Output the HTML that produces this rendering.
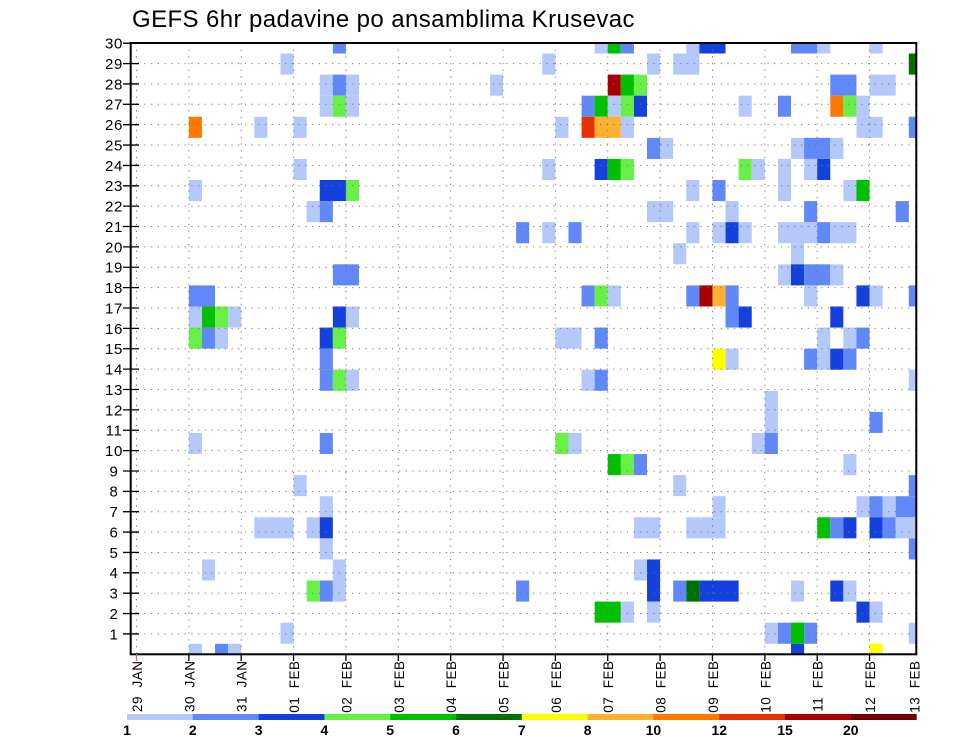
<!DOCTYPE html>
<html><head><meta charset="utf-8"><style>
html,body{margin:0;padding:0;background:#fff;}
svg{display:block;}
.c1{fill:#b4c8fa}.c2{fill:#6088f8}.c3{fill:#1441dc}.c4{fill:#68f048}
.c5{fill:#00c000}.c6{fill:#007000}.c7{fill:#ffff00}.c8{fill:#ffb030}
.c9{fill:#ff7800}.c10{fill:#e83000}.c11{fill:#a80000}.c12{fill:#700000}
text{font-family:"Liberation Sans",sans-serif;fill:#000}
</style></head><body>
<svg width="960" height="742" viewBox="0 0 960 742" xmlns="http://www.w3.org/2000/svg">
<rect width="960" height="742" fill="#fff"/>
<text x="132" y="27" font-size="24" letter-spacing="0.4">GEFS 6hr padavine po ansamblima Krusevac</text>
<defs><clipPath id="pc"><rect x="130.7" y="43" width="785.6" height="611.3"/></clipPath></defs>
<g clip-path="url(#pc)">
<g transform="translate(136.5,654.3) scale(13.09,-21.08)">
<rect class="c2" x="15" y="28.5" width="1" height="1"/>
<rect class="c1" x="35" y="28.5" width="1" height="1"/>
<rect class="c5" x="36" y="28.5" width="1" height="1"/>
<rect class="c2" x="37" y="28.5" width="1" height="1"/>
<rect class="c1" x="42" y="28.5" width="1" height="1"/>
<rect class="c3" x="43" y="28.5" width="2" height="1"/>
<rect class="c2" x="50" y="28.5" width="2" height="1"/>
<rect class="c1" x="52" y="28.5" width="1" height="1"/>
<rect class="c1" x="56" y="28.5" width="1" height="1"/>
<rect class="c1" x="11" y="27.5" width="1" height="1"/>
<rect class="c1" x="31" y="27.5" width="1" height="1"/>
<rect class="c1" x="39" y="27.5" width="1" height="1"/>
<rect class="c1" x="41" y="27.5" width="2" height="1"/>
<rect class="c6" x="59" y="27.5" width="1" height="1"/>
<rect class="c1" x="14" y="26.5" width="1" height="1"/>
<rect class="c2" x="15" y="26.5" width="1" height="1"/>
<rect class="c1" x="16" y="26.5" width="1" height="1"/>
<rect class="c1" x="27" y="26.5" width="1" height="1"/>
<rect class="c11" x="36" y="26.5" width="1" height="1"/>
<rect class="c5" x="37" y="26.5" width="1" height="1"/>
<rect class="c4" x="38" y="26.5" width="1" height="1"/>
<rect class="c2" x="53" y="26.5" width="2" height="1"/>
<rect class="c1" x="56" y="26.5" width="2" height="1"/>
<rect class="c1" x="14" y="25.5" width="1" height="1"/>
<rect class="c4" x="15" y="25.5" width="1" height="1"/>
<rect class="c1" x="16" y="25.5" width="1" height="1"/>
<rect class="c2" x="34" y="25.5" width="1" height="1"/>
<rect class="c5" x="35" y="25.5" width="1" height="1"/>
<rect class="c1" x="36" y="25.5" width="1" height="1"/>
<rect class="c4" x="37" y="25.5" width="1" height="1"/>
<rect class="c3" x="38" y="25.5" width="1" height="1"/>
<rect class="c1" x="46" y="25.5" width="1" height="1"/>
<rect class="c2" x="49" y="25.5" width="1" height="1"/>
<rect class="c9" x="53" y="25.5" width="1" height="1"/>
<rect class="c4" x="54" y="25.5" width="1" height="1"/>
<rect class="c1" x="55" y="25.5" width="1" height="1"/>
<rect class="c9" x="4" y="24.5" width="1" height="1"/>
<rect class="c1" x="9" y="24.5" width="1" height="1"/>
<rect class="c1" x="12" y="24.5" width="1" height="1"/>
<rect class="c1" x="32" y="24.5" width="1" height="1"/>
<rect class="c10" x="34" y="24.5" width="1" height="1"/>
<rect class="c8" x="35" y="24.5" width="2" height="1"/>
<rect class="c1" x="37" y="24.5" width="1" height="1"/>
<rect class="c1" x="55" y="24.5" width="2" height="1"/>
<rect class="c2" x="59" y="24.5" width="1" height="1"/>
<rect class="c2" x="39" y="23.5" width="1" height="1"/>
<rect class="c1" x="40" y="23.5" width="1" height="1"/>
<rect class="c1" x="50" y="23.5" width="1" height="1"/>
<rect class="c2" x="51" y="23.5" width="2" height="1"/>
<rect class="c1" x="53" y="23.5" width="1" height="1"/>
<rect class="c1" x="12" y="22.5" width="1" height="1"/>
<rect class="c1" x="31" y="22.5" width="1" height="1"/>
<rect class="c3" x="35" y="22.5" width="1" height="1"/>
<rect class="c5" x="36" y="22.5" width="1" height="1"/>
<rect class="c4" x="37" y="22.5" width="1" height="1"/>
<rect class="c4" x="46" y="22.5" width="1" height="1"/>
<rect class="c1" x="47" y="22.5" width="1" height="1"/>
<rect class="c1" x="49" y="22.5" width="1" height="1"/>
<rect class="c1" x="51" y="22.5" width="1" height="1"/>
<rect class="c3" x="52" y="22.5" width="1" height="1"/>
<rect class="c1" x="4" y="21.5" width="1" height="1"/>
<rect class="c3" x="14" y="21.5" width="2" height="1"/>
<rect class="c4" x="16" y="21.5" width="1" height="1"/>
<rect class="c1" x="42" y="21.5" width="1" height="1"/>
<rect class="c2" x="44" y="21.5" width="1" height="1"/>
<rect class="c1" x="49" y="21.5" width="1" height="1"/>
<rect class="c1" x="54" y="21.5" width="1" height="1"/>
<rect class="c5" x="55" y="21.5" width="1" height="1"/>
<rect class="c1" x="13" y="20.5" width="1" height="1"/>
<rect class="c2" x="14" y="20.5" width="1" height="1"/>
<rect class="c1" x="39" y="20.5" width="2" height="1"/>
<rect class="c1" x="45" y="20.5" width="1" height="1"/>
<rect class="c2" x="51" y="20.5" width="1" height="1"/>
<rect class="c2" x="58" y="20.5" width="1" height="1"/>
<rect class="c2" x="29" y="19.5" width="1" height="1"/>
<rect class="c1" x="31" y="19.5" width="1" height="1"/>
<rect class="c2" x="33" y="19.5" width="1" height="1"/>
<rect class="c1" x="42" y="19.5" width="1" height="1"/>
<rect class="c1" x="44" y="19.5" width="1" height="1"/>
<rect class="c3" x="45" y="19.5" width="1" height="1"/>
<rect class="c1" x="46" y="19.5" width="1" height="1"/>
<rect class="c1" x="49" y="19.5" width="3" height="1"/>
<rect class="c2" x="52" y="19.5" width="1" height="1"/>
<rect class="c1" x="53" y="19.5" width="2" height="1"/>
<rect class="c1" x="41" y="18.5" width="1" height="1"/>
<rect class="c1" x="50" y="18.5" width="1" height="1"/>
<rect class="c2" x="15" y="17.5" width="2" height="1"/>
<rect class="c1" x="49" y="17.5" width="1" height="1"/>
<rect class="c3" x="50" y="17.5" width="1" height="1"/>
<rect class="c2" x="51" y="17.5" width="2" height="1"/>
<rect class="c1" x="53" y="17.5" width="1" height="1"/>
<rect class="c2" x="4" y="16.5" width="2" height="1"/>
<rect class="c2" x="34" y="16.5" width="1" height="1"/>
<rect class="c4" x="35" y="16.5" width="1" height="1"/>
<rect class="c1" x="36" y="16.5" width="1" height="1"/>
<rect class="c2" x="42" y="16.5" width="1" height="1"/>
<rect class="c11" x="43" y="16.5" width="1" height="1"/>
<rect class="c8" x="44" y="16.5" width="1" height="1"/>
<rect class="c2" x="45" y="16.5" width="1" height="1"/>
<rect class="c1" x="51" y="16.5" width="1" height="1"/>
<rect class="c3" x="55" y="16.5" width="1" height="1"/>
<rect class="c1" x="56" y="16.5" width="1" height="1"/>
<rect class="c2" x="59" y="16.5" width="1" height="1"/>
<rect class="c1" x="4" y="15.5" width="1" height="1"/>
<rect class="c5" x="5" y="15.5" width="1" height="1"/>
<rect class="c4" x="6" y="15.5" width="1" height="1"/>
<rect class="c1" x="7" y="15.5" width="1" height="1"/>
<rect class="c3" x="15" y="15.5" width="1" height="1"/>
<rect class="c1" x="16" y="15.5" width="1" height="1"/>
<rect class="c2" x="45" y="15.5" width="1" height="1"/>
<rect class="c3" x="46" y="15.5" width="1" height="1"/>
<rect class="c3" x="53" y="15.5" width="1" height="1"/>
<rect class="c4" x="4" y="14.5" width="1" height="1"/>
<rect class="c2" x="5" y="14.5" width="1" height="1"/>
<rect class="c1" x="6" y="14.5" width="1" height="1"/>
<rect class="c3" x="14" y="14.5" width="1" height="1"/>
<rect class="c4" x="15" y="14.5" width="1" height="1"/>
<rect class="c1" x="32" y="14.5" width="2" height="1"/>
<rect class="c2" x="35" y="14.5" width="1" height="1"/>
<rect class="c1" x="52" y="14.5" width="1" height="1"/>
<rect class="c1" x="54" y="14.5" width="1" height="1"/>
<rect class="c2" x="55" y="14.5" width="1" height="1"/>
<rect class="c2" x="14" y="13.5" width="1" height="1"/>
<rect class="c7" x="44" y="13.5" width="1" height="1"/>
<rect class="c1" x="45" y="13.5" width="1" height="1"/>
<rect class="c2" x="51" y="13.5" width="1" height="1"/>
<rect class="c1" x="52" y="13.5" width="1" height="1"/>
<rect class="c3" x="53" y="13.5" width="1" height="1"/>
<rect class="c2" x="54" y="13.5" width="1" height="1"/>
<rect class="c2" x="14" y="12.5" width="1" height="1"/>
<rect class="c4" x="15" y="12.5" width="1" height="1"/>
<rect class="c1" x="16" y="12.5" width="1" height="1"/>
<rect class="c1" x="34" y="12.5" width="1" height="1"/>
<rect class="c2" x="35" y="12.5" width="1" height="1"/>
<rect class="c1" x="59" y="12.5" width="1" height="1"/>
<rect class="c1" x="48" y="11.5" width="1" height="1"/>
<rect class="c1" x="48" y="10.5" width="1" height="1"/>
<rect class="c2" x="56" y="10.5" width="1" height="1"/>
<rect class="c1" x="4" y="9.5" width="1" height="1"/>
<rect class="c2" x="14" y="9.5" width="1" height="1"/>
<rect class="c4" x="32" y="9.5" width="1" height="1"/>
<rect class="c1" x="33" y="9.5" width="1" height="1"/>
<rect class="c1" x="47" y="9.5" width="1" height="1"/>
<rect class="c2" x="48" y="9.5" width="1" height="1"/>
<rect class="c5" x="36" y="8.5" width="1" height="1"/>
<rect class="c4" x="37" y="8.5" width="1" height="1"/>
<rect class="c2" x="38" y="8.5" width="1" height="1"/>
<rect class="c1" x="54" y="8.5" width="1" height="1"/>
<rect class="c1" x="12" y="7.5" width="1" height="1"/>
<rect class="c1" x="41" y="7.5" width="1" height="1"/>
<rect class="c2" x="59" y="7.5" width="1" height="1"/>
<rect class="c1" x="14" y="6.5" width="1" height="1"/>
<rect class="c1" x="44" y="6.5" width="1" height="1"/>
<rect class="c1" x="55" y="6.5" width="1" height="1"/>
<rect class="c2" x="56" y="6.5" width="1" height="1"/>
<rect class="c1" x="57" y="6.5" width="1" height="1"/>
<rect class="c2" x="58" y="6.5" width="2" height="1"/>
<rect class="c1" x="9" y="5.5" width="3" height="1"/>
<rect class="c1" x="13" y="5.5" width="1" height="1"/>
<rect class="c3" x="14" y="5.5" width="1" height="1"/>
<rect class="c1" x="38" y="5.5" width="2" height="1"/>
<rect class="c1" x="42" y="5.5" width="3" height="1"/>
<rect class="c5" x="52" y="5.5" width="1" height="1"/>
<rect class="c2" x="53" y="5.5" width="1" height="1"/>
<rect class="c3" x="54" y="5.5" width="1" height="1"/>
<rect class="c3" x="56" y="5.5" width="1" height="1"/>
<rect class="c2" x="57" y="5.5" width="1" height="1"/>
<rect class="c1" x="58" y="5.5" width="2" height="1"/>
<rect class="c1" x="14" y="4.5" width="1" height="1"/>
<rect class="c2" x="59" y="4.5" width="1" height="1"/>
<rect class="c1" x="5" y="3.5" width="1" height="1"/>
<rect class="c1" x="15" y="3.5" width="1" height="1"/>
<rect class="c1" x="38" y="3.5" width="1" height="1"/>
<rect class="c3" x="39" y="3.5" width="1" height="1"/>
<rect class="c4" x="13" y="2.5" width="1" height="1"/>
<rect class="c2" x="14" y="2.5" width="1" height="1"/>
<rect class="c1" x="15" y="2.5" width="1" height="1"/>
<rect class="c2" x="29" y="2.5" width="1" height="1"/>
<rect class="c3" x="39" y="2.5" width="1" height="1"/>
<rect class="c2" x="41" y="2.5" width="1" height="1"/>
<rect class="c6" x="42" y="2.5" width="1" height="1"/>
<rect class="c3" x="43" y="2.5" width="3" height="1"/>
<rect class="c1" x="50" y="2.5" width="1" height="1"/>
<rect class="c3" x="53" y="2.5" width="1" height="1"/>
<rect class="c1" x="54" y="2.5" width="1" height="1"/>
<rect class="c5" x="35" y="1.5" width="2" height="1"/>
<rect class="c1" x="37" y="1.5" width="1" height="1"/>
<rect class="c1" x="39" y="1.5" width="1" height="1"/>
<rect class="c3" x="55" y="1.5" width="1" height="1"/>
<rect class="c1" x="56" y="1.5" width="1" height="1"/>
<rect class="c1" x="11" y="0.5" width="1" height="1"/>
<rect class="c1" x="48" y="0.5" width="1" height="1"/>
<rect class="c2" x="49" y="0.5" width="1" height="1"/>
<rect class="c5" x="50" y="0.5" width="1" height="1"/>
<rect class="c2" x="51" y="0.5" width="1" height="1"/>
<rect class="c1" x="59" y="0.5" width="1" height="1"/>
<rect class="c1" x="4" y="-0.5" width="1" height="1"/>
<rect class="c2" x="6" y="-0.5" width="1" height="1"/>
<rect class="c1" x="7" y="-0.5" width="1" height="1"/>
<rect class="c3" x="50" y="-0.5" width="1" height="1"/>
<rect class="c7" x="56" y="-0.5" width="1" height="1"/>
</g>
<g stroke="#777" stroke-width="1" stroke-dasharray="1.2 5.5" fill="none">
<path d="M131 633.93H916M131 613.56H916M131 593.19H916M131 572.82H916M131 552.45H916M131 532.08H916M131 511.71H916M131 491.34H916M131 470.97H916M131 450.6H916M131 430.23H916M131 409.86H916M131 389.49H916M131 369.12H916M131 348.75H916M131 328.38H916M131 308.01H916M131 287.64H916M131 267.27H916M131 246.9H916M131 226.53H916M131 206.16H916M131 185.79H916M131 165.42H916M131 145.05H916M131 124.68H916M131 104.31H916M131 83.94H916M131 63.57H916"/>
<path d="M136.5 43V654M188.86 43V654M241.22 43V654M293.58 43V654M345.94 43V654M398.3 43V654M450.66 43V654M503.02 43V654M555.38 43V654M607.74 43V654M660.1 43V654M712.46 43V654M764.82 43V654M817.18 43V654M869.54 43V654"/>
</g>
</g>
<rect x="130.7" y="43" width="785.6" height="611.3" fill="none" stroke="#000" stroke-width="2"/>
<g stroke="#000" stroke-width="1.3">
<path d="M123 633.93H139M123 613.56H139M123 593.19H139M123 572.82H139M123 552.45H139M123 532.08H139M123 511.71H139M123 491.34H139M123 470.97H139M123 450.6H139M123 430.23H139M123 409.86H139M123 389.49H139M123 369.12H139M123 348.75H139M123 328.38H139M123 308.01H139M123 287.64H139M123 267.27H139M123 246.9H139M123 226.53H139M123 206.16H139M123 185.79H139M123 165.42H139M123 145.05H139M123 124.68H139M123 104.31H139M123 83.94H139M123 63.57H139M123 43.2H139"/>
<path d="M188.86 654V661M241.22 654V661M293.58 654V661M345.94 654V661M398.3 654V661M450.66 654V661M503.02 654V661M555.38 654V661M607.74 654V661M660.1 654V661M712.46 654V661M764.82 654V661M817.18 654V661M869.54 654V661"/>
</g>
<path d="M136.5 654V661" stroke="#c87070" stroke-width="1.3"/>
<g font-size="15" text-anchor="middle" letter-spacing="0.6">
<text x="114" y="639.3">1</text><text x="114" y="618.9">2</text><text x="114" y="598.6">3</text>
<text x="114" y="578.2">4</text><text x="114" y="557.8">5</text><text x="114" y="537.5">6</text>
<text x="114" y="517.1">7</text><text x="114" y="496.7">8</text><text x="114" y="476.4">9</text>
<text x="114" y="456">10</text><text x="114" y="435.6">11</text><text x="114" y="415.3">12</text>
<text x="114" y="394.9">13</text><text x="114" y="374.5">14</text><text x="114" y="354.2">15</text>
<text x="114" y="333.8">16</text><text x="114" y="313.4">17</text><text x="114" y="293">18</text>
<text x="114" y="272.7">19</text><text x="114" y="252.3">20</text><text x="114" y="231.9">21</text>
<text x="114" y="211.6">22</text><text x="114" y="191.2">23</text><text x="114" y="170.8">24</text>
<text x="114" y="150.5">25</text><text x="114" y="130.1">26</text><text x="114" y="109.7">27</text>
<text x="114" y="89.3">28</text><text x="114" y="69">29</text><text x="114" y="48.6">30</text>
</g>
<g font-size="13.5" text-anchor="end" letter-spacing="0.5">
<text x="0" y="0" transform="translate(142,660.5) rotate(-90)">29&#160;&#160;JAN</text>
<text x="0" y="0" transform="translate(194.4,660.5) rotate(-90)">30&#160;&#160;JAN</text>
<text x="0" y="0" transform="translate(246.7,660.5) rotate(-90)">31&#160;&#160;JAN</text>
<text x="0" y="0" transform="translate(299.1,660.5) rotate(-90)">01&#160;&#160;FEB</text>
<text x="0" y="0" transform="translate(351.4,660.5) rotate(-90)">02&#160;&#160;FEB</text>
<text x="0" y="0" transform="translate(403.8,660.5) rotate(-90)">03&#160;&#160;FEB</text>
<text x="0" y="0" transform="translate(456.2,660.5) rotate(-90)">04&#160;&#160;FEB</text>
<text x="0" y="0" transform="translate(508.5,660.5) rotate(-90)">05&#160;&#160;FEB</text>
<text x="0" y="0" transform="translate(560.9,660.5) rotate(-90)">06&#160;&#160;FEB</text>
<text x="0" y="0" transform="translate(613.2,660.5) rotate(-90)">07&#160;&#160;FEB</text>
<text x="0" y="0" transform="translate(665.6,660.5) rotate(-90)">08&#160;&#160;FEB</text>
<text x="0" y="0" transform="translate(718,660.5) rotate(-90)">09&#160;&#160;FEB</text>
<text x="0" y="0" transform="translate(770.3,660.5) rotate(-90)">10&#160;&#160;FEB</text>
<text x="0" y="0" transform="translate(822.7,660.5) rotate(-90)">11&#160;&#160;FEB</text>
<text x="0" y="0" transform="translate(875,660.5) rotate(-90)">12&#160;&#160;FEB</text>
<text x="0" y="0" transform="translate(919.5,660.5) rotate(-90)">13&#160;&#160;FEB</text>
</g>
<rect class="c1" x="127" y="714" width="66" height="6"/>
<rect class="c2" x="192.8" y="714" width="66" height="6"/>
<rect class="c3" x="258.6" y="714" width="66" height="6"/>
<rect class="c4" x="324.4" y="714" width="66" height="6"/>
<rect class="c5" x="390.2" y="714" width="66" height="6"/>
<rect class="c6" x="456" y="714" width="66" height="6"/>
<rect class="c7" x="521.8" y="714" width="66" height="6"/>
<rect class="c8" x="587.6" y="714" width="66" height="6"/>
<rect class="c9" x="653.4" y="714" width="66" height="6"/>
<rect class="c10" x="719.2" y="714" width="66" height="6"/>
<rect class="c11" x="785" y="714" width="66" height="6"/>
<rect class="c12" x="850.8" y="714" width="65.9" height="6"/>
<g font-size="14" font-weight="bold" text-anchor="middle">
<text x="127" y="735">1</text><text x="192.8" y="735">2</text><text x="258.6" y="735">3</text>
<text x="324.4" y="735">4</text><text x="390.2" y="735">5</text><text x="456" y="735">6</text>
<text x="521.8" y="735">7</text><text x="587.6" y="735">8</text><text x="653.4" y="735">10</text>
<text x="719.2" y="735">12</text><text x="785" y="735">15</text><text x="850.8" y="735">20</text>
</g>
</svg>
</body></html>
